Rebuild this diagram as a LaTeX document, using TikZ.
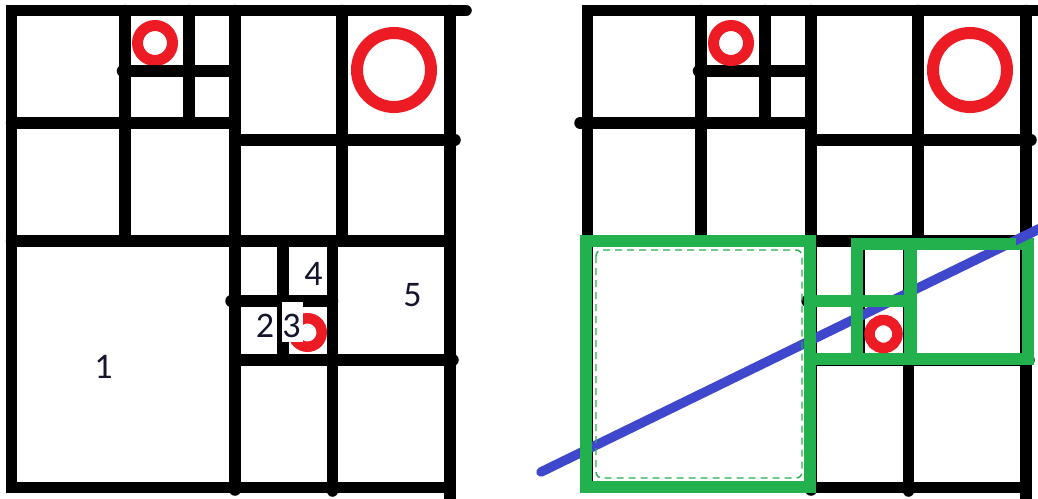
\documentclass[tikz,border=0pt]{standalone}
\usepackage{fontspec}
\setmainfont{Carlito}
\definecolor{pred}{HTML}{ED1C24}
\definecolor{pgreen}{HTML}{22B14C}
\definecolor{pblue}{HTML}{3F48CC}
\definecolor{labc}{HTML}{15152E}
\newcommand\qtgrid{%
  \draw[blkr] (466,10.5) -- (11.5,10.5) -- (11.5,487.5) -- (450,487.5);
  \draw[blkr] (450,10.5) -- (450,510);
  \draw[blkr] (125,10.5) -- (125,241);
  \draw[blkr] (189,10.5) -- (189,123);
  \draw[blkr] (235,10.5) -- (235,490);
  \draw[blkr] (342,10.5) -- (342,241);
  \draw[blkr] (332.5,241) -- (332.5,491);
  \draw[blkr] (122.5,71) -- (235,71);
  \draw[blkr] (11.5,123) -- (235,123);
  \draw[blkr] (235,140) -- (455,140);
  \draw[blkr] (11.5,241) -- (450,241);
  \draw[blkr] (283,241) -- (283,360);
  \draw[blkr] (231,301) -- (332.5,301);
  \draw[blkr] (235,360) -- (453,360);
}
\begin{document}
\begin{tikzpicture}[x=1pt,y=-1pt, line join=miter,
  blkr/.style={line width=11.5pt, draw=black, line cap=round},
  ringst/.style={draw=pred, line width=#1},
  grn/.style={draw=pgreen, line width=12.5pt, line cap=rect},
  bluest/.style={draw=pblue, line width=9.5pt, line cap=round},
  lbl/.style={inner sep=0pt, text=labc, font=\fontsize{36}{40}\selectfont}]
\useasboundingbox (0,0) rectangle (1038,498);
\fill[white] (0,0) rectangle (1038,498);

% ---------- left figure ----------
\draw[ringst=10.5pt] (307.5,332.5) circle[radius=14.25pt];
\draw[ringst=11pt] (155,43) circle[radius=17.5pt];
\draw[ringst=12pt] (394,70) circle[radius=37pt];
\qtgrid
\node[lbl] (n1) at (103.5,367) {1};
\node[lbl] (n2) at (265,325.5) {2};
\node[fill=white, inner sep=0pt, minimum width=21pt, minimum height=40pt] (box3) at (292.5,322) {};
\node[lbl] (n3) at (291.5,325.5) {3};
\node[lbl] (n4) at (313.5,274) {4};
\node[lbl] (n5) at (412.5,295) {5};

% ---------- right figure ----------
\begin{scope}[xshift=576pt]
  \qtgrid
  \draw[blkr] (4,123) -- (20,123);
\end{scope}
\draw[ringst=11pt] (731,43) circle[radius=17.5pt];
\draw[ringst=12pt] (970,70) circle[radius=37pt];

\coordinate (bs) at (541,472);
\coordinate (be) at (1060,218.7);
\draw[bluest] (bs) -- (be);

% green boxes
\draw[grn, line width=12pt] (586,241) rectangle (810,486.5);
\draw[grn] (810,359) -- (1028,359) -- (1028,244) -- (857,244) -- (857,359);
\draw[grn] (810,301) -- (910.5,301);
\draw[grn] (910.5,244) -- (910.5,359);
\draw[pgreen, line width=1.4pt, dash pattern=on 7pt off 5pt, rounded corners=6pt]
  (596,250) rectangle (802,478);

% blue over green at top right
\begin{scope}
  \clip (1016,200) rectangle (1038,260);
  \draw[bluest] (bs) -- (be);
\end{scope}

\draw[ringst=10.5pt] (883.5,334) circle[radius=14pt];
\end{tikzpicture}
\end{document}
